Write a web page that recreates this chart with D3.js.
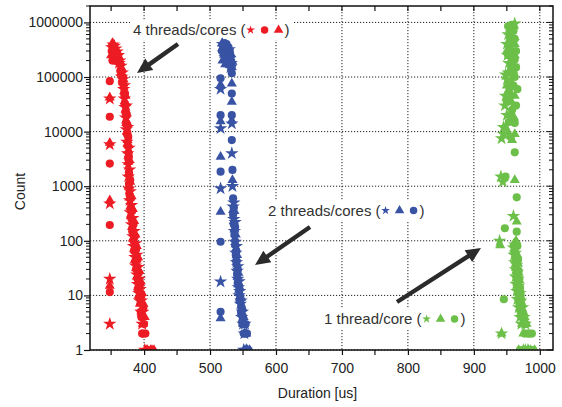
<!DOCTYPE html>
<html><head><meta charset="utf-8">
<script src="https://cdn.jsdelivr.net/npm/d3@7"></script>
<style>body{margin:0;background:#fff} text{font-family:"Liberation Sans",Arial,Helvetica,sans-serif}</style>
</head><body><svg id="c" width="562" height="407"></svg>
<script>
// ---- data: [duration (us), count] ----
const redStar = [[348,40000],[348,5800],[348,480],[348,20],[348,3],
 [353,390000],[355,370000],[357,330000],[359,290000],[361,250000],[363,200000],[365,160000],[367,120000],[368,90000],[369,60000],[370,40000],[371,28000],[372,18000],[373,11000],[374,6500],[375,4000],[376,2500],[376,1500],[377,900],[378,550],[379,330],[381,200],[383,120],[384,80],[386,50],[387,35],[389,24],[390,16],[392,11],[393,8],[395,5],[397,3],[401,1],
 [351,350000],[356,280000],[362,180000],[366,100000],[370,70000],[373,30000],[375,12000],[377,5000],[378,2000],[379,800],[381,450],[383,260],[385,150],[387,90],[389,55],[391,33],[393,20],[394,13],[396,8],[398,5]];
const redCircle = [[348,84000],[348,18700],[348,2600],[348,195],[348,11.5],
 [351,300000],[354,340000],[356,300000],[358,270000],[360,240000],[362,210000],[364,170000],[366,130000],[368,100000],[369,70000],[370,48000],[371,32000],[372,22000],[373,14000],[374,9000],[375,5500],[376,3200],[377,1800],[377,1100],[378,700],[380,400],[381,250],[382,150],[384,100],[385,65],[387,42],[388,30],[390,20],[391,13],[393,9],[395,5],[396,4],[397,2],[400,3],[398,2],[406,1],
 [352,200000],[358,200000],[364,130000],[367,80000],[371,50000],[374,20000],[376,8000],[377,3500],[379,1300],[380,600],[382,350],[384,200],[386,120],[388,70],[390,45],[392,26],[394,16],[396,10],[399,6],[402,2]];
const redTriangle = [[348,42000],[348,6200],[348,550],[348,15],
 [350,250000],[352,420000],[354,380000],[356,350000],[358,310000],[360,280000],[362,230000],[364,190000],[366,145000],[367,110000],[368,80000],[370,55000],[371,36000],[372,25000],[373,16000],[374,10000],[375,7000],[376,4500],[376,2800],[377,1700],[377,1000],[378,620],[379,420],[380,280],[382,180],[383,110],[385,70],[386,45],[388,32],[389,22],[391,14],[392,10],[394,7],[396,5],[398,3],[403,1],[410,1],[415,1],
 [355,230000],[361,190000],[365,120000],[369,90000],[372,45000],[374,15000],[376,6000],[378,3000],[379,1200],[381,650],[383,380],[385,230],[387,130],[389,80],[391,50],[393,28],[395,18],[397,11],[399,7],[401,4],[405,1],[412,1]];

const blueStar = [[516,60000],[516,11500],[516,910],[516,17.8],
 [519,400000],[521,350000],[524,300000],[527,260000],[530,220000],[532,180000],
 [520,280000],[523,230000],[526,190000],[529,320000],[531,150000],
 [533,14000],[533,4000],[534,1000],
 [535,420],[536,250],[537,150],[538,95],[539,60],[540,40],[541,28],[542,20],[543,14],[544,10],[546,7],[548,4],[550,3],[552,2],[555,1],
 [536,500],[538,220],[540,80],[542,34],[544,18],[545,12],[547,8],[549,5],[553,3],[551,1]];
const blueCircle = [[516,95000],[516,20000],[516,1850],[516,96],[516,5],
 [520,380000],[523,330000],[526,280000],[529,240000],[531,200000],[533,160000],
 [518,300000],[521,250000],[524,200000],[527,170000],[530,300000],[528,350000],[525,400000],[522,420000],
 [533,117000],[533,50000],[533,20000],[533,7000],[534,1990],[535,600],
 [535,300],[536,200],[537,130],[538,85],[539,55],[540,38],[541,25],[542,17],[544,12],[545,8],[547,5],[549,3],[551,2],[553,2],[558,1],
 [536,400],[538,180],[540,65],[542,30],[544,15],[546,9],[548,6],[550,4],[554,3],[556,2]];
const blueTriangle = [[516,72000],[516,15500],[516,3470],[516,340],[516,3.8],
 [518,410000],[522,360000],[525,310000],[528,270000],[531,230000],[534,190000],[533,150000],
 [519,200000],[523,170000],[526,230000],[529,180000],[532,260000],
 [533,76000],[533,35000],[533,16000],[534,1300],[535,365],
 [536,230],[537,160],[538,110],[539,70],[540,48],[541,32],[542,22],[543,16],[545,11],[546,8],[548,5],[550,3],[553,1],[557,1],[560,1],
 [537,350],[539,130],[541,55],[543,26],[545,14],[547,9],[549,6],[551,4],[555,2]];

const greenStar = [[955,800000],[952,600000],[950,400000],[951,250000],[953,180000],
 [962,950000],[957,650000],[960,450000],[955,280000],[960,160000],[948,110000],[955,60000],[953,40000],[957,25000],[945,12000],
 [952,120000],[950,90000],[948,45000],[947,30000],[950,20000],[945,9000],[942,7500],[941,1500],[944,1200],[960,283],[939,100],
 [960,75],[961,55],[962,40],[963,30],[963,22],[964,16],[965,12],[966,8.5],[968,6],[970,4],[942,2],[972,3],[978,1],[975,1],
 [962,85],[963,60],[965,36],[966,27],[967,20],[968,15],[970,11],[971,8],[974,6],[976,4],[978,3],[982,1]];
const greenCircle = [[958,900000],[960,700000],[956,500000],[958,300000],[962,210000],[957,150000],[962,100000],[960,70000],[955,45000],[958,25000],[962,14400],[956,8000],[962,4170],[948,1500],[965,625],[947,170],[965,147],
 [952,850000],[962,500000],[964,300000],[952,250000],[964,150000],[955,120000],[966,60000],[950,35000],[964,30000],[953,15000],
 [962,70],[963,50],[964,35],[965,25],[966,18],[967,13],[968,10],[945.5,8.5],[969,7],[971,5],[973,4],[975,3],[977,2],[982,2],[988,2],[970,1],[980,1],[986,1],[990,1],
 [966,80],[967,45],[968,28],[969,20],[970,14],[971,10],[972,7],[974,5],[976,4],[979,3],[984,2],[976,1]];
const greenTriangle = [[955,750000],[957,500000],[954,350000],[958,200000],[954,130000],[957,80000],[952,55000],[957,35000],[961,18000],[962,9000],[958,7000],[962,1300],[965,224],[940,83],
 [960,850000],[962,400000],[950,300000],[962,250000],[960,130000],[950,70000],[962,45000],[955,20000],[948,12000],[952,9500],
 [961,90],[962,65],[963,45],[964,32],[965,24],[966,17],[967,12],[968,9],[970,6],[972,5],[974,4],[973,3],[942,2],[975,2],[968,1],[983,1],[992,1],
 [964,100],[966,55],[967,38],[968,26],[969,19],[970,13],[972,9],[973,7],[975,5],[977,4],[980,3],[986,1]];

const xTicks = [400,500,600,700,800,900,1000];
const yTicks = [1,10,100,1000,10000,100000,1000000];
const labels = ["4 threads/cores (", "2 threads/cores (", "1 thread/core ("];

// ---- layout ----
const svg = d3.select("#c");
const L=90, T=6, R=553, B=350;
const x = d3.scaleLinear().domain([318,1020]).range([L,R]);
const y = d3.scaleLog().domain([1,2e6]).range([B,T]);
const RED="#ed1c24", BLUE="#3953a4", GREEN="#6cbf48";
const INK="#222";

// gridlines
const grid = svg.append("g").attr("stroke","#222").attr("stroke-width",1).attr("stroke-dasharray","1.2,1.8");
grid.selectAll("line.gx").data(xTicks).join("line").attr("x1",d=>x(d)).attr("x2",d=>x(d)).attr("y1",T).attr("y2",B);
grid.selectAll("line.gy").data(yTicks).join("line").attr("y1",d=>y(d)).attr("y2",d=>y(d)).attr("x1",L).attr("x2",R);

const labelPos = [{x:133,y:35,c:RED,order:["star","circle","triangle"]},
                  {x:268,y:215.5,c:BLUE,order:["star","triangle","circle"]},
                  {x:324,y:324,c:GREEN,order:["star","triangle","circle"]}];
const bgG = svg.append("g");
const markG = svg.append("g");
const arrowG = svg.append("g");
const labG = svg.append("g");

// markers
svg.append("clipPath").attr("id","clip").append("rect").attr("x",L).attr("y",T).attr("width",R-L).attr("height",B-T);
markG.attr("clip-path","url(#clip)");
const sym = {
  circle: d3.symbol().type(d3.symbolCircle).size(52),
  triangle: d3.symbol().type(d3.symbolTriangle).size(44),
  star: d3.symbol().type(d3.symbolStar).size(56)
};
function drawSet(data, type, color){
  markG.append("g").selectAll("path").data(data).join("path")
    .attr("d", sym[type]())
    .attr("transform", d=>`translate(${x(d[0])},${y(d[1])})`)
    .attr("fill", color);
}
drawSet(redTriangle,"triangle",RED); drawSet(redCircle,"circle",RED); drawSet(redStar,"star",RED);
drawSet(blueTriangle,"triangle",BLUE); drawSet(blueCircle,"circle",BLUE); drawSet(blueStar,"star",BLUE);
drawSet(greenTriangle,"triangle",GREEN); drawSet(greenCircle,"circle",GREEN); drawSet(greenStar,"star",GREEN);

// axes
const axG = svg.append("g");
const axL = axG.append("g").attr("transform",`translate(${L},0)`)
  .call(d3.axisLeft(y).tickValues(yTicks).tickFormat(d3.format("d")).tickSize(6).tickPadding(1));
const axB = axG.append("g").attr("transform",`translate(0,${B})`)
  .call(d3.axisBottom(x).tickValues(xTicks).tickFormat(d3.format("d")).tickSize(5).tickPadding(8));
[axL,axB].forEach(a=>{
  a.select(".domain").remove();
  a.selectAll("text").attr("font-size",14).attr("fill",INK).attr("font-family",'"Liberation Sans",Arial,sans-serif');
  a.selectAll("line").attr("stroke","#111").attr("stroke-width",1.2);
});
const minorY = y.ticks().filter(v=>!yTicks.includes(v));
axG.append("g").selectAll("line").data(minorY).join("line")
  .attr("x1",L-4).attr("x2",L).attr("y1",d=>y(d)).attr("y2",d=>y(d)).attr("stroke","#111").attr("stroke-width",1);
const xAll = d3.range(350,1001,50);
axG.append("g").selectAll("line").data(xAll.filter(v=>!xTicks.includes(v))).join("line")
  .attr("x1",d=>x(d)).attr("x2",d=>x(d)).attr("y1",B).attr("y2",B+5).attr("stroke","#111").attr("stroke-width",1.2);
axG.append("g").selectAll("line").data(xAll).join("line")
  .attr("x1",d=>x(d)).attr("x2",d=>x(d)).attr("y1",T).attr("y2",T+5).attr("stroke","#111").attr("stroke-width",1.2);
axG.append("g").selectAll("line").data(y.ticks()).join("line")
  .attr("x1",d=>R-(yTicks.includes(d)?6:4)).attr("x2",R).attr("y1",d=>y(d)).attr("y2",d=>y(d)).attr("stroke","#111").attr("stroke-width",1);
axG.append("rect").attr("x",L).attr("y",T).attr("width",R-L).attr("height",B-T)
  .attr("fill","none").attr("stroke","#111").attr("stroke-width",1.5);

// axis titles
svg.append("text").attr("x",(L+R)/2 - 4).attr("y",398).attr("text-anchor","middle")
  .attr("font-size",14).attr("fill",INK).text("Duration [us]");
svg.append("text").attr("transform","translate(25,191.5) rotate(-90)").attr("text-anchor","middle")
  .attr("font-size",14).attr("fill",INK).text("Count");

// labels
labelPos.forEach((p,i)=>{
  const t = labG.append("text").attr("x",p.x).attr("y",p.y).attr("font-size",15).attr("fill","#333").text(labels[i]);
  const w = t.node().getComputedTextLength();
  let cx = p.x + w + 5;
  const small = {circle: d3.symbol().type(d3.symbolCircle).size(44),
                 triangle: d3.symbol().type(d3.symbolTriangle).size(40),
                 star: d3.symbol().type(d3.symbolStar).size(24)};
  p.order.forEach((s,k)=>{
    labG.append("path").attr("d",small[s]()).attr("transform",`translate(${cx + k*14},${p.y-5})`).attr("fill",p.c);
  });
  const ct = labG.append("text").attr("x",cx + 2*14 + 6).attr("y",p.y).attr("font-size",15).attr("fill","#333").text(")");
  const endX = cx + 2*14 + 6 + ct.node().getComputedTextLength();
  bgG.append("rect").attr("x",p.x-3).attr("y",p.y-15).attr("width",endX-p.x+6).attr("height",20).attr("fill","#fff");
});

// arrows
const arrows = [[[178,44],[137,73]],[[310,227],[255,265]],[[397,302],[481,248]]];
function arrowPath(a,b){
  const dx=b[0]-a[0], dy=b[1]-a[1], len=Math.hypot(dx,dy);
  const ux=dx/len, uy=dy/len, nx=-uy, ny=ux;
  const hl=15, hw=7, sw=2.2;
  const bx=b[0]-ux*hl, by=b[1]-uy*hl;
  const pts=[[a[0]+nx*sw,a[1]+ny*sw],[bx+nx*sw,by+ny*sw],[bx+nx*hw,by+ny*hw],b,[bx-nx*hw,by-ny*hw],[bx-nx*sw,by-ny*sw],[a[0]-nx*sw,a[1]-ny*sw]];
  return "M"+pts.map(p=>p.join(",")).join("L")+"Z";
}
arrowG.selectAll("path").data(arrows).join("path").attr("d",d=>arrowPath(d[0],d[1])).attr("fill","#2b2b2b");
</script></body></html>
